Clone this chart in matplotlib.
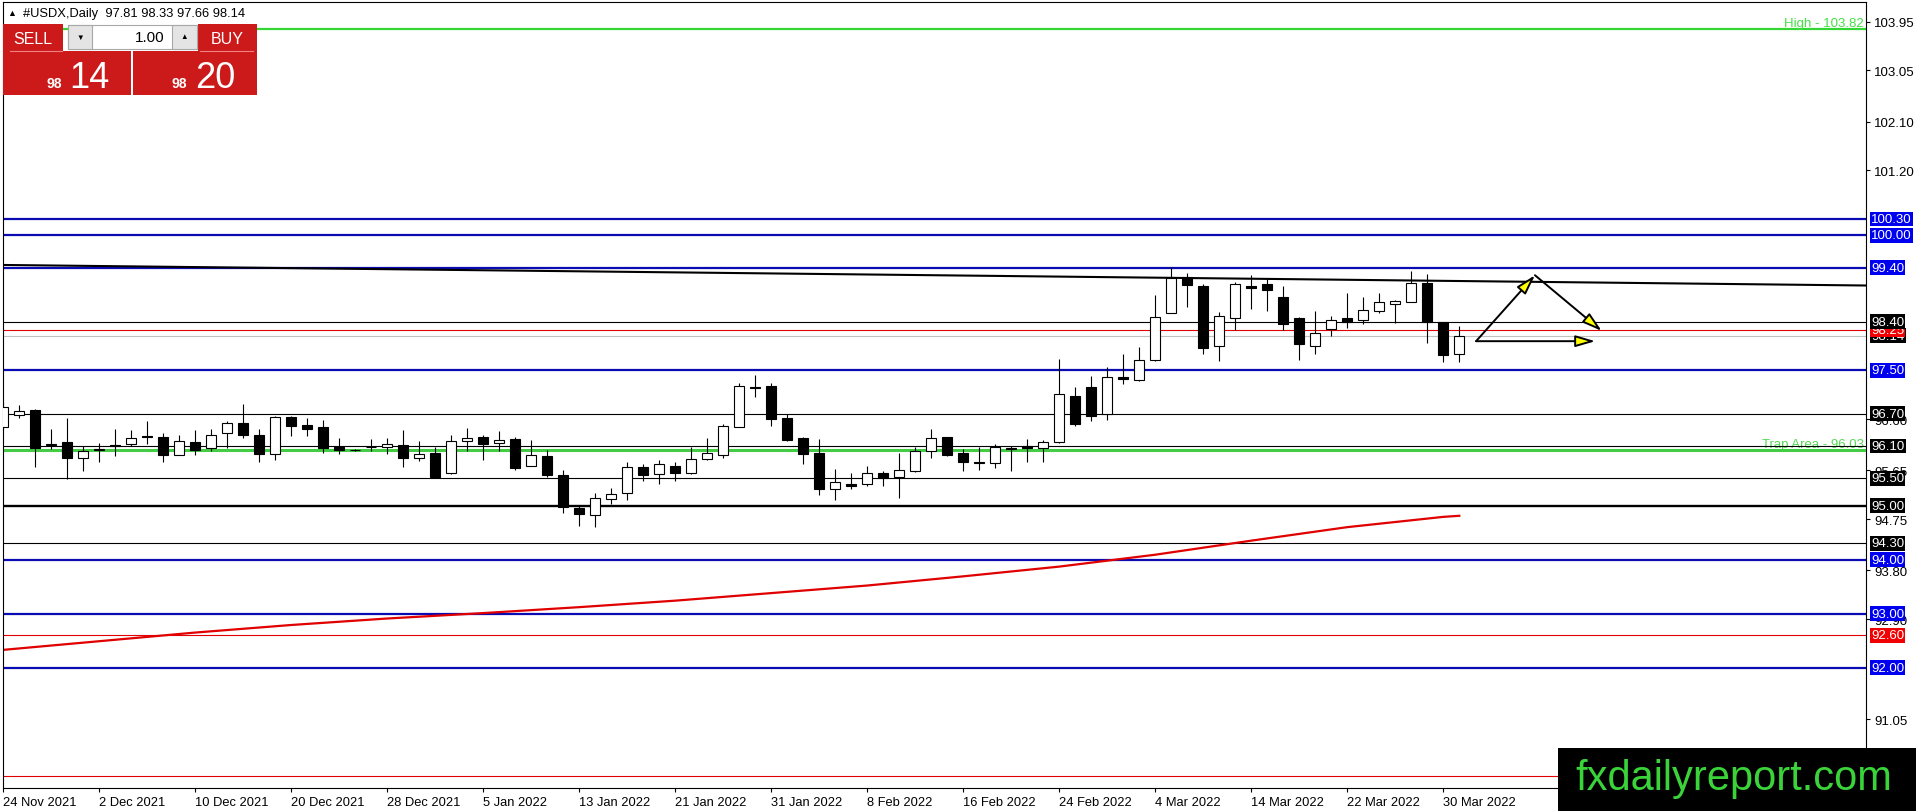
import matplotlib
matplotlib.use("Agg")
import matplotlib.pyplot as plt
from matplotlib.patches import Rectangle, FancyArrowPatch

plt.rcParams["font.family"] = ["Liberation Sans", "DejaVu Sans"]

# ---- data (daily bars, 24 Nov 2021 .. 31 Mar 2022) ----
opens = [96.45, 96.67, 96.77, 96.12, 96.17, 95.87, 96.02, 96.12, 96.13, 96.28,
         96.26, 95.93, 96.17, 96.06, 96.34, 96.53, 96.30, 95.96, 96.63, 96.49,
         96.45, 96.09, 96.03, 96.09, 96.08, 96.12, 95.87, 95.97, 95.61, 96.20,
         96.27, 96.15, 96.23, 95.73, 95.92, 95.56, 94.95, 94.82, 95.12, 95.23,
         95.71, 95.58, 95.74, 95.61, 95.86, 95.94, 96.45, 97.20, 97.21, 96.62,
         96.25, 95.97, 95.30, 95.39, 95.39, 95.60, 95.53, 95.63, 96.01, 96.26,
         95.97, 95.81, 95.78, 96.06, 96.11, 96.07, 96.17, 97.03, 97.19, 96.69,
         97.38, 97.33, 97.69, 98.57, 99.22, 99.06, 97.96, 98.46, 99.06, 99.10,
         98.85, 98.46, 97.96, 98.26, 98.46, 98.44, 98.59, 98.72, 98.76, 99.12,
         98.39, 97.81]
highs = [96.91, 96.86, 96.78, 96.42, 96.62, 96.11, 96.16, 96.42, 96.40, 96.56,
         96.35, 96.30, 96.40, 96.42, 96.57, 96.88, 96.42, 96.66, 96.66, 96.62,
         96.58, 96.25, 96.04, 96.23, 96.25, 96.39, 96.19, 96.09, 96.30, 96.43,
         96.30, 96.37, 96.26, 96.21, 96.03, 95.66, 95.00, 95.24, 95.32, 95.81,
         95.76, 95.84, 95.81, 96.08, 96.25, 96.51, 97.27, 97.41, 97.27, 96.69,
         96.27, 96.23, 95.68, 95.60, 95.73, 95.64, 95.97, 96.08, 96.42, 96.27,
         96.05, 96.09, 96.14, 96.11, 96.23, 96.22, 97.71, 97.19, 97.40, 97.56,
         97.80, 97.93, 98.89, 99.42, 99.30, 99.10, 98.58, 99.13, 99.26, 99.19,
         99.06, 98.49, 98.60, 98.50, 98.94, 98.85, 98.93, 98.80, 99.33, 99.28,
         98.40, 98.33]
lows = [96.40, 96.61, 95.72, 96.05, 95.49, 95.63, 95.80, 95.92, 96.11, 96.13,
        95.81, 95.93, 95.93, 96.01, 96.06, 96.25, 95.81, 95.85, 96.29, 96.29,
        95.98, 95.96, 96.01, 96.01, 95.96, 95.72, 95.82, 95.53, 95.59, 96.00,
        95.85, 96.00, 95.66, 95.73, 95.53, 94.86, 94.63, 94.60, 95.03, 95.10,
        95.46, 95.39, 95.46, 95.59, 95.84, 95.87, 96.45, 97.01, 96.48, 96.20,
        95.77, 95.20, 95.11, 95.31, 95.37, 95.36, 95.13, 95.62, 95.87, 95.92,
        95.64, 95.66, 95.69, 95.64, 95.80, 95.81, 96.15, 96.48, 96.57, 96.59,
        97.25, 97.31, 97.68, 98.57, 98.68, 97.81, 97.68, 98.25, 98.64, 98.60,
        98.25, 97.70, 97.81, 98.13, 98.29, 98.35, 98.57, 98.37, 98.76, 98.00,
        97.65, 97.66]
closes = [96.82, 96.74, 96.06, 96.14, 95.87, 96.01, 96.04, 96.10, 96.24, 96.26,
          95.93, 96.19, 96.02, 96.31, 96.52, 96.31, 95.96, 96.63, 96.48, 96.42,
          96.06, 96.02, 96.02, 96.08, 96.13, 95.87, 95.95, 95.53, 96.19, 96.24,
          96.13, 96.21, 95.69, 95.93, 95.57, 94.97, 94.84, 95.13, 95.21, 95.71,
          95.56, 95.76, 95.61, 95.86, 95.97, 96.47, 97.21, 97.18, 96.60, 96.22,
          95.96, 95.30, 95.44, 95.37, 95.60, 95.51, 95.66, 96.01, 96.24, 95.94,
          95.80, 95.78, 96.08, 96.05, 96.07, 96.17, 97.06, 96.50, 96.66, 97.37,
          97.34, 97.70, 98.48, 99.20, 99.08, 97.92, 98.50, 99.09, 99.03, 98.99,
          98.36, 97.99, 98.20, 98.44, 98.39, 98.61, 98.76, 98.78, 99.12, 98.40,
          97.79, 98.14]

date_tick_bars = [0, 6, 12, 18, 24, 30, 36, 42, 48, 54, 60, 66, 72, 78, 84, 90]
date_tick_labels = ["24 Nov 2021", "2 Dec 2021", "10 Dec 2021", "20 Dec 2021",
                    "28 Dec 2021", "5 Jan 2022", "13 Jan 2022", "21 Jan 2022",
                    "31 Jan 2022", "8 Feb 2022", "16 Feb 2022", "24 Feb 2022",
                    "4 Mar 2022", "14 Mar 2022", "22 Mar 2022", "30 Mar 2022"]

# scale ticks still visible beside the level boxes
price_ticks = [103.95, 103.05, 102.10, 101.20, 96.60, 95.65, 94.75, 93.80,
               92.90, 91.05]

# long moving average, sampled every 6 bars
ma_bars = [0, 6, 12, 18, 24, 30, 36, 42, 48, 54, 60, 66, 72, 78, 84, 90, 91]
ma_values = [92.33, 92.49, 92.65, 92.79, 92.91, 93.01, 93.12, 93.24, 93.38,
             93.52, 93.69, 93.87, 94.09, 94.35, 94.60, 94.79, 94.81]

# horizontal levels
blue_levels = [100.30, 100.00, 99.40, 97.50, 94.00, 93.00, 92.00]
black_levels = [98.40, 96.70, 96.10, 95.50, 94.30]
major_level = 95.00
red_levels = [98.25, 92.60, 90.00]
bid_price = 98.14
high_price = 103.82
trap_price = 96.03

# descending trendline (bar, price)
trend_bars = [0, 116.4]
trend_prices = [99.45, 99.07]

# projection arrows (start bar, start price, end bar, end price)
arrow_starts = [(92.05, 98.04), (95.73, 99.26), (92.05, 98.04)]
arrow_ends = [(95.73, 99.26), (99.9, 98.23), (99.5, 98.04)]

W, H = 1916, 812
PL, PT, PR, PB = 2.7, 2.7, 1866.0, 788.7

fig = plt.figure(figsize=(W / 100, H / 100), dpi=100)
ax = fig.add_axes([PL / W, 1 - PB / H, (PR - PL) / W, (PB - PT) / H])
ax.set_xlim(-0.0375, 116.42)
ax.set_ylim(89.78, 104.32)

BLUE = "#0b0bb4"
BOXBLUE = "#0000f0"
RED = "#e00000"
GREEN = "#33d633"

# levels
for lv in blue_levels:
    ax.axhline(lv, color=BLUE, lw=1.6, zorder=1)
for lv in black_levels:
    ax.axhline(lv, color="black", lw=0.8, zorder=1)
ax.axhline(major_level, color="black", lw=1.7, zorder=1)
for lv in red_levels:
    ax.axhline(lv, color=RED, lw=0.8, zorder=1)
ax.axhline(bid_price, color="#c0c0c0", lw=0.8, zorder=1)
ax.axhline(high_price, color=GREEN, lw=1.6, zorder=1)
ax.axhline(trap_price, color="#44cc44", lw=2.2, zorder=1)

ax.plot(trend_bars, trend_prices, color="black", lw=1.5, zorder=1.5)
ax.plot(ma_bars, ma_values, color=RED, lw=1.6, zorder=1.5)

# candles
bars = list(range(len(opens)))
ax.vlines(bars, lows, highs, color="black", lw=0.8, zorder=2)
bottoms = [min(o, c) for o, c in zip(opens, closes)]
heights = [abs(c - o) for o, c in zip(opens, closes)]
faces = ["white" if c >= o else "black" for o, c in zip(opens, closes)]
ax.bar(bars, heights, bottom=bottoms, width=0.6, color=faces,
       edgecolor="black", linewidth=0.8, zorder=3)

# arrows
for (x0, y0), (x1, y1) in zip(arrow_starts, arrow_ends):
    ax.add_patch(FancyArrowPatch((x0, y0), (x1, y1),
                                 arrowstyle="-|>,head_length=12,head_width=3.5",
                                 mutation_scale=1, fc="#ffff00", ec="black",
                                 lw=1.4, shrinkA=0, shrinkB=0, zorder=4))

# in-chart labels
yt = ax.get_yaxis_transform()
ax.text(1 - 2 / (PR - PL), high_price, "High - 103.82", transform=yt,
        ha="right", va="bottom", color="#44e044", fontsize=9.5)
ax.text(1 - 2 / (PR - PL), trap_price, "Trap Area - 96.03", transform=yt,
        ha="right", va="bottom", color="#55d855", fontsize=9.5, zorder=0.5)

# axes styling
for s in ax.spines.values():
    s.set_color("black")
    s.set_linewidth(0.8)
ax.yaxis.tick_right()
ax.set_yticks(price_ticks)
ax.set_yticklabels([f"{v:.2f}" for v in price_ticks])
ax.tick_params(axis="y", direction="out", length=3, width=0.8, pad=3,
               labelsize=9.5, colors="black")
ax.set_xticks(date_tick_bars)
ax.set_xticklabels(date_tick_labels, ha="left")
ax.tick_params(axis="x", direction="out", length=3, width=0.8, pad=3,
               labelsize=9.3)

# price boxes on the right scale
box_x = 1 + 5 / (PR - PL)
z = 10


def price_box(v, face, fg="white"):
    global z
    ax.text(box_x, v, f"{v:.2f}", transform=yt, ha="left", va="center",
            color=fg, fontsize=9.5, clip_on=False, zorder=z,
            bbox=dict(boxstyle="square,pad=0.1", fc=face, ec="none"))
    z += 1


price_box(bid_price, "black")
for lv in red_levels:
    price_box(lv, "#f00000")
for lv in black_levels + [major_level]:
    price_box(lv, "black")
for lv in blue_levels:
    price_box(lv, BOXBLUE)

# overlay in pixel coordinates: header, trade panel, watermark
ov = fig.add_axes([0, 0, 1, 1])
ov.set_xlim(0, W)
ov.set_ylim(H, 0)
ov.axis("off")

ov.text(7, 13.5, "\u25b2", fontsize=6.5, va="center", ha="left")
ov.text(22.7, 13.5, "#USDX,Daily  97.81 98.33 97.66 98.14", fontsize=9.3,
        va="center", ha="left")

PANEL = "#cc1a1a"
ov.add_patch(Rectangle((3.5, 25), 59.5, 27, fc=PANEL, ec="none"))
ov.add_patch(Rectangle((3.5, 52), 127.2, 43.5, fc=PANEL, ec="none"))
ov.add_patch(Rectangle((197.7, 25), 59, 27, fc=PANEL, ec="none"))
ov.add_patch(Rectangle((133.3, 52), 123.4, 43.5, fc=PANEL, ec="none"))
ov.add_patch(Rectangle((68.3, 25.5), 128.4, 24.5, fc="white", ec="#a8a8a8",
                       lw=0.8))
ov.add_patch(Rectangle((68.3, 25.5), 23.4, 24.5, fc="#e4e4e4", ec="#a8a8a8",
                       lw=0.8))
ov.add_patch(Rectangle((171.7, 25.5), 25, 24.5, fc="#e4e4e4", ec="#a8a8a8",
                       lw=0.8))
ov.text(80, 38.5, "\u25bc", fontsize=5.5, ha="center", va="center")
ov.text(184.2, 37.5, "\u25b2", fontsize=5.5, ha="center", va="center")
ov.text(165, 38, "1.00", fontsize=11, ha="right", va="center")
ov.text(33, 39, "SELL", fontsize=11.5, color="white", ha="center", va="center")
ov.text(227, 39, "BUY", fontsize=11.5, color="white", ha="center", va="center")
ov.plot([10, 61.7], [51.7, 51.7], color="#ee8080", lw=0.8)
ov.plot([200, 253], [51.7, 51.7], color="#ee8080", lw=0.8)
ov.text(62, 87.5, "98", fontsize=10, weight="bold", color="white",
        ha="right", va="baseline")
ov.text(69, 87.5, "14", fontsize=26, color="white", ha="left", va="baseline")
ov.text(187, 87.5, "98", fontsize=10, weight="bold", color="white",
        ha="right", va="baseline")
ov.text(195, 87.5, "20", fontsize=26, color="white", ha="left", va="baseline")

ov.add_patch(Rectangle((1558, 749), 358, 63, fc="black", ec="none"))
ov.text(1575, 790, "fxdailyreport.com", fontsize=30, color="#3ad43a",
        ha="left", va="baseline")

fig.savefig("out.png", dpi=100)
